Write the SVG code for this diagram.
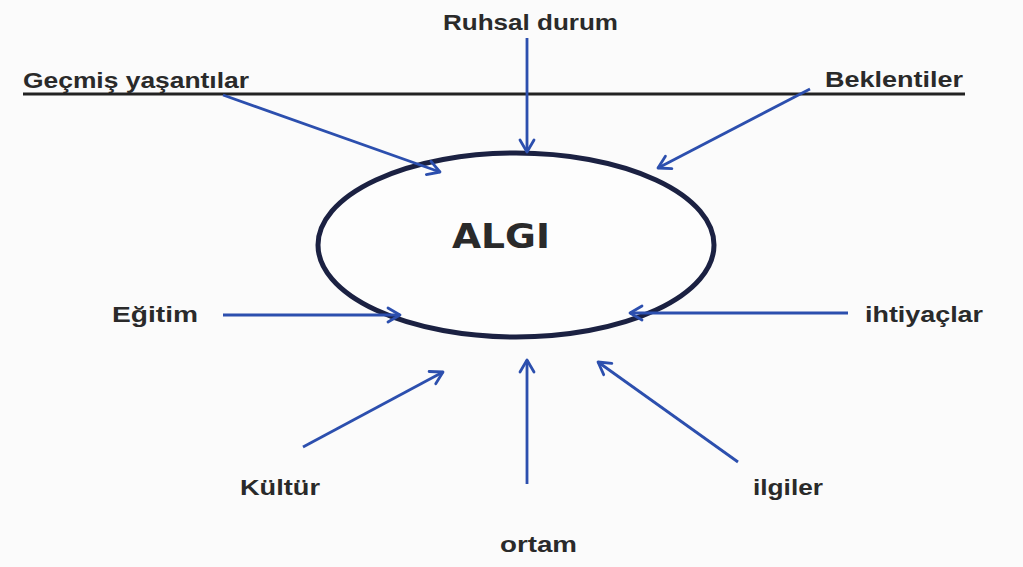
<svg xmlns="http://www.w3.org/2000/svg" width="1023" height="567" viewBox="0 0 1023 567">
<defs>
<style>
.lbl{font-family:"Liberation Sans","Open Sans",Arial,sans-serif;font-weight:bold;font-size:22px;fill:#2a2a2a}
.arr{stroke:#2c4fae;stroke-width:2.8;fill:none;marker-end:url(#ah)}
</style>
<marker id="ah" markerUnits="userSpaceOnUse" markerWidth="20" markerHeight="20" viewBox="0 0 20 20" refX="16" refY="10" orient="auto">
<path d="M4,3 L16,10 L4,17" fill="none" stroke="#2c4fae" stroke-width="2.8" stroke-linecap="round" stroke-linejoin="round"/>
</marker>
</defs>
<rect width="1023" height="567" fill="#fbfbfb"/>
<line x1="23" y1="94" x2="965" y2="94" stroke="#222" stroke-width="3"/>
<g id="algi">
<ellipse cx="516" cy="245" rx="198" ry="92" fill="#fdfdfd" stroke="#1b2142" stroke-width="5"/>
<text x="452" y="248" textLength="98" lengthAdjust="spacingAndGlyphs" style="font-family:'DejaVu Sans',sans-serif;font-size:34px;font-weight:bold;fill:#2a2a2a">ALGI</text>
</g>
<g id="gecmis"><text class="lbl" x="23" y="88" textLength="226" lengthAdjust="spacingAndGlyphs">Geçmiş yaşantılar</text></g>
<g id="ruhsal"><text class="lbl" x="443" y="30" textLength="175" lengthAdjust="spacingAndGlyphs">Ruhsal durum</text></g>
<g id="beklentiler"><text class="lbl" x="825" y="87" textLength="138" lengthAdjust="spacingAndGlyphs">Beklentiler</text></g>
<g id="egitim"><text class="lbl" x="112" y="322" textLength="86" lengthAdjust="spacingAndGlyphs">Eğitim</text></g>
<g id="ihtiyaclar"><text class="lbl" x="865" y="322" textLength="118" lengthAdjust="spacingAndGlyphs">ihtiyaçlar</text></g>
<g id="kultur"><text class="lbl" x="240" y="495" textLength="80" lengthAdjust="spacingAndGlyphs">Kültür</text></g>
<g id="ilgiler"><text class="lbl" x="753" y="495" textLength="70" lengthAdjust="spacingAndGlyphs">ilgiler</text></g>
<g id="ortam"><text class="lbl" x="500" y="552" textLength="77" lengthAdjust="spacingAndGlyphs">ortam</text></g>
<g id="connectors">
<line class="arr" x1="223" y1="95" x2="440" y2="172"/>
<line class="arr" x1="527" y1="38" x2="527" y2="152"/>
<line class="arr" x1="810" y1="89" x2="658" y2="168"/>
<line class="arr" x1="223" y1="315" x2="400" y2="315"/>
<line class="arr" x1="848" y1="313" x2="630" y2="313"/>
<line class="arr" x1="303" y1="447" x2="443" y2="372"/>
<line class="arr" x1="527" y1="484" x2="527" y2="360"/>
<line class="arr" x1="738" y1="462" x2="598" y2="362"/>
</g>
</svg>
